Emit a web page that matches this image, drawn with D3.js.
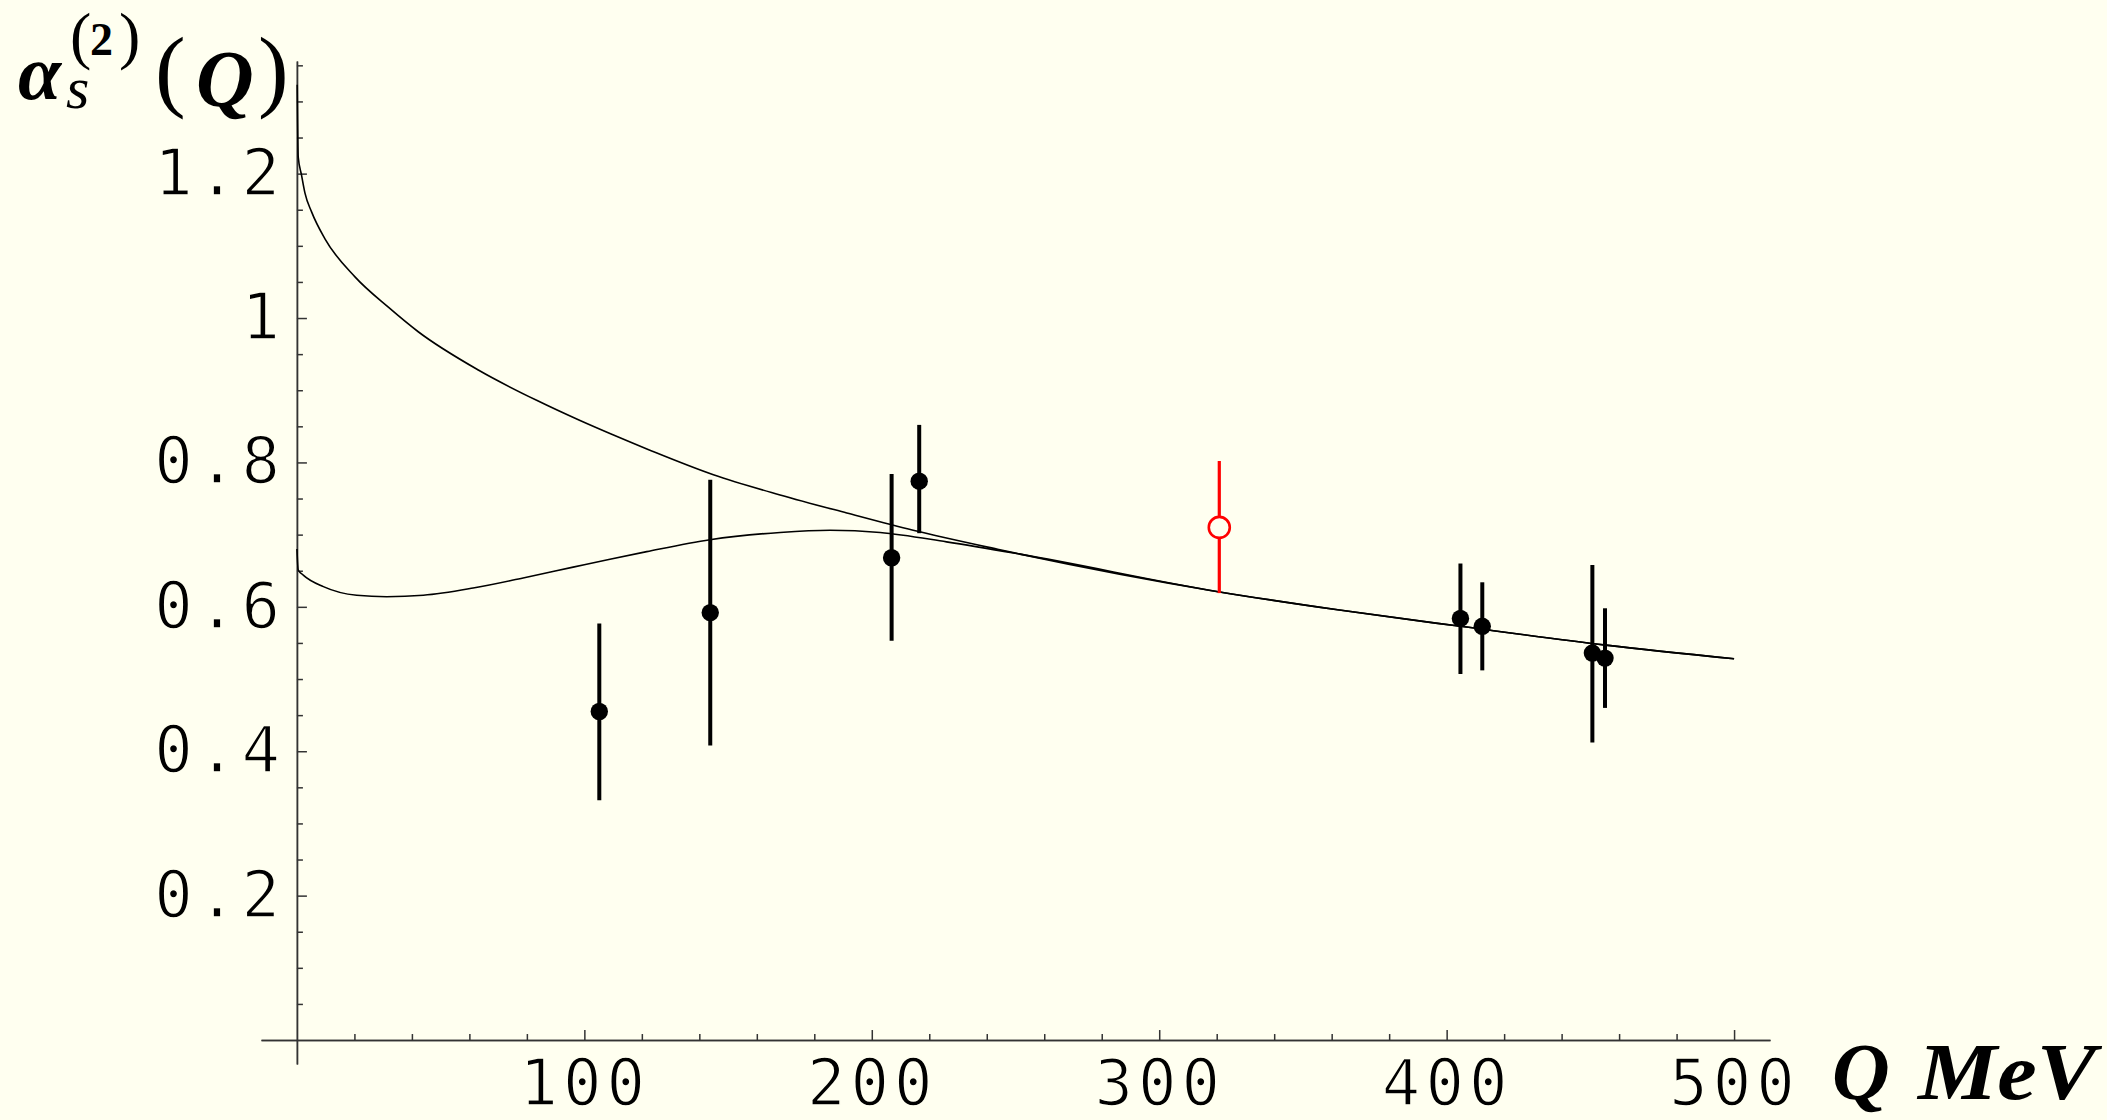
<!DOCTYPE html>
<html>
<head>
<meta charset="utf-8">
<script src="https://cdn.jsdelivr.net/npm/d3@7"></script>
<style>
  html, body { margin: 0; padding: 0; background: #fffff0; }
  svg { display: block; }
</style>
</head>
<body>
<div id="chart"></div>
<script>
// measured points with error bars (Q in MeV)
var pointQ = [105.2, 143.8, 206.9, 216.5, 404.8, 412.4, 450.7, 455.1];
var pointVal = [0.455, 0.592, 0.668, 0.774, 0.584, 0.573, 0.536, 0.529];
var pointLo = [0.332, 0.408, 0.553, 0.702, 0.507, 0.512, 0.412, 0.460];
var pointHi = [0.577, 0.776, 0.784, 0.852, 0.660, 0.634, 0.658, 0.598];

// the open red point
var redQ = [320.9];
var redVal = [0.710];
var redLo = [0.619];
var redHi = [0.802];

// upper curve
var upperQ = [0.1, 0.45, 1.6, 2.8, 5.1, 9.7, 20.2, 31.8, 42.2, 63.1, 83.4, 98.5, 108.9, 122.8, 144.9, 168.1, 191.3, 214.4, 244.6, 251.6, 320.5, 362.7, 404.8, 455.4, 500];
var upperVal = [1.323, 1.223, 1.198, 1.173, 1.147, 1.110, 1.057, 1.015, 0.981, 0.928, 0.886, 0.858, 0.840, 0.817, 0.783, 0.755, 0.730, 0.706, 0.679, 0.673, 0.621, 0.5955, 0.573, 0.547, 0.528];

// lower curve, joins the upper one above ~250 MeV
var lowerQ = [0, 0.45, 2.2, 9.2, 20.8, 31.2, 44, 61.3, 78.7, 96.1, 108.9, 121.7, 143.7, 168.1, 185.5, 202.9, 226, 251.6, 320.5, 362.7, 404.8, 455.4, 500];
var lowerVal = [0.680, 0.651, 0.644, 0.628, 0.616, 0.614, 0.616, 0.626, 0.640, 0.655, 0.666, 0.6765, 0.693, 0.703, 0.706, 0.703, 0.690, 0.673, 0.621, 0.5955, 0.573, 0.547, 0.528];

// ticks
var xMajor = [100, 200, 300, 400, 500];
var xTickLabels = ["100", "200", "300", "400", "500"];
var yMajor = [0.2, 0.4, 0.6, 0.8, 1.0, 1.2];
var yTickLabels = ["0.2", "0.4", "0.6", "0.8", "1", "1.2"];

var W = 2107, H = 1120;
var bg = "#fffff0";

var svg = d3
  .select("#chart")
  .append("svg")
  .attr("width", W)
  .attr("height", H)
  .style("background", bg);

var x = d3.scaleLinear().domain([-12.5, 512.5]).range([261, 1770]);
var y = d3.scaleLinear().domain([-0.0332, 1.356]).range([1064, 61]);

var xMinor = d3.range(20, 501, 20).filter((d) => d % 100 != 0);
var yMinor = d3.range(1, 28).map((i) => +(i * 0.05).toFixed(2)).filter((d) => Math.round(d * 100) % 20 != 0);

var monoFont = "'DejaVu Sans Mono', monospace";

// x axis: minor ticks, then major ticks with labels
var gx = svg.append("g").attr("transform", "translate(0," + y(0) + ")");
gx.append("g")
  .call(d3.axisBottom(x).tickValues(xMinor).tickSizeInner(-6).tickSizeOuter(0).tickFormat(""));
gx.append("g")
  .call(
    d3.axisBottom(x)
      .tickValues(xMajor)
      .tickSizeInner(-10)
      .tickSizeOuter(0)
      .tickPadding(20)
      .tickFormat((d, i) => xTickLabels[i])
  );

// y axis
var gy = svg.append("g").attr("transform", "translate(" + x(0) + ",0)");
gy.append("g")
  .call(d3.axisLeft(y).tickValues(yMinor).tickSizeInner(-6).tickSizeOuter(0).tickFormat(""));
gy.append("g")
  .call(
    d3.axisLeft(y)
      .tickValues(yMajor)
      .tickSizeInner(-10)
      .tickSizeOuter(0)
      .tickPadding(12)
      .tickFormat((d, i) => yTickLabels[i])
  );

svg.selectAll(".domain, .tick line").attr("stroke", "#333").attr("stroke-width", 1.5);
// thin the mono glyphs a little with a background-coloured stroke
svg.selectAll(".tick text")
  .attr("fill", "#000")
  .attr("stroke", bg)
  .attr("stroke-width", 1.6)
  .style("font-family", monoFont)
  .style("font-size", "64px")
  .style("letter-spacing", "5px");

// curves
var line = d3
  .line()
  .x((d) => x(d[0]))
  .y((d) => y(d[1]))
  .curve(d3.curveMonotoneX);

svg.append("path")
  .datum(upperQ.map((q, i) => [q, upperVal[i]]))
  .attr("d", line)
  .attr("fill", "none")
  .attr("stroke", "#000")
  .attr("stroke-width", 1.6);

svg.append("path")
  .datum(lowerQ.map((q, i) => [q, lowerVal[i]]))
  .attr("d", line)
  .attr("fill", "none")
  .attr("stroke", "#000")
  .attr("stroke-width", 1.6);

// black points with error bars
var pts = pointQ.map((q, i) => ({ q: q, v: pointVal[i], lo: pointLo[i], hi: pointHi[i] }));
svg.append("g")
  .selectAll("line")
  .data(pts)
  .enter()
  .append("line")
  .attr("x1", (d) => x(d.q))
  .attr("x2", (d) => x(d.q))
  .attr("y1", (d) => y(d.lo))
  .attr("y2", (d) => y(d.hi))
  .attr("stroke", "#000")
  .attr("stroke-width", 4);
svg.append("g")
  .selectAll("circle")
  .data(pts)
  .enter()
  .append("circle")
  .attr("cx", (d) => x(d.q))
  .attr("cy", (d) => y(d.v))
  .attr("r", 8.7)
  .attr("fill", "#000");

// red open point
var red = redQ.map((q, i) => ({ q: q, v: redVal[i], lo: redLo[i], hi: redHi[i] }));
svg.append("g")
  .selectAll("line")
  .data(red)
  .enter()
  .append("line")
  .attr("x1", (d) => x(d.q))
  .attr("x2", (d) => x(d.q))
  .attr("y1", (d) => y(d.lo))
  .attr("y2", (d) => y(d.hi))
  .attr("stroke", "#ff0000")
  .attr("stroke-width", 3.2);
svg.append("g")
  .selectAll("circle")
  .data(red)
  .enter()
  .append("circle")
  .attr("cx", (d) => x(d.q))
  .attr("cy", (d) => y(d.v))
  .attr("r", 10.5)
  .attr("fill", bg)
  .attr("stroke", "#ff0000")
  .attr("stroke-width", 2.6);

// axis titles
var serif = "'Liberation Serif', 'Times New Roman', serif";
var yl = svg.append("g").style("font-family", serif).attr("fill", "#000");
yl.append("text").attr("x", 18).attr("y", 99).style("font-size", "78px")
  .style("font-weight", "bold").style("font-style", "italic").text("α");
yl.append("text").attr("x", 66).attr("y", 108).style("font-size", "60px")
  .style("font-style", "italic").text("s");
yl.append("text").attr("x", 70).attr("y", 57).style("font-size", "64px").text("(");
yl.append("text").attr("x", 90).attr("y", 55).style("font-size", "46px")
  .style("font-weight", "bold").text("2");
yl.append("text").attr("x", 119).attr("y", 57).style("font-size", "64px").text(")");
yl.append("text").attr("x", 155).attr("y", 100).style("font-size", "92px").text("(");
yl.append("text").attr("x", 196).attr("y", 106).style("font-size", "80px")
  .style("font-weight", "bold").style("font-style", "italic").text("Q");
yl.append("text").attr("x", 258).attr("y", 100).style("font-size", "92px").text(")");

var xl = svg.append("g").style("font-family", serif).attr("fill", "#000")
  .style("font-weight", "bold").style("font-style", "italic").style("font-size", "80px");
xl.append("text").attr("x", 1832).attr("y", 1099).text("Q");
xl.append("text").attr("x", 1918).attr("y", 1099)
  .attr("textLength", 178).attr("lengthAdjust", "spacingAndGlyphs").text("MeV");
</script>
</body>
</html>
